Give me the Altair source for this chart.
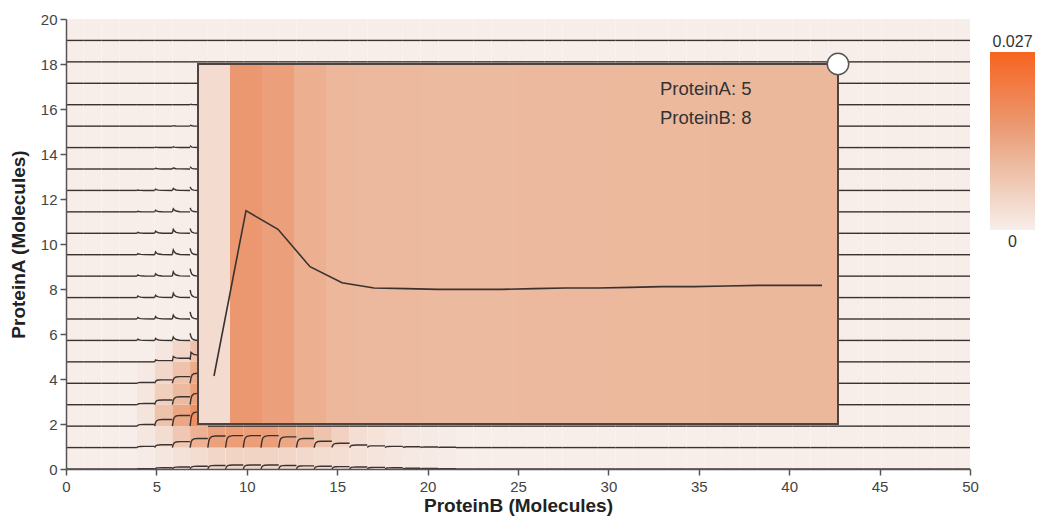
import altair as alt
import pandas as pd

# ---- grid --------------------------------------------------------------
A_MAX, B_MAX = 20, 50
PROTEIN_A = list(range(A_MAX + 1))   # 21 rows
PROTEIN_B = list(range(B_MAX + 1))   # 51 columns
N_A, N_B = len(PROTEIN_A), len(PROTEIN_B)
P_MAX = 0.027
LEGEND_VALUES = [0, P_MAX]

# time steps sampled for the small trace drawn inside each cell
TRACE_T = [0, 1, 2, 4, 8, 19]
T_LAST = 19

# probability over time (x 1e-3) for the selected cell, one value per step
INSET_A, INSET_B = 5, 8
INSET_T = list(range(20))
INSET_P = [3.6, 16.0, 14.6, 11.8, 10.6, 10.2, 10.15, 10.1, 10.1, 10.1,
           10.15, 10.2, 10.2, 10.25, 10.3, 10.3, 10.35, 10.4, 10.4, 10.4]

# probability traces (x 1e-3) at TRACE_T, keyed by (ProteinA, ProteinB);
# every other cell stays at zero
TRACES = {
    # ProteinA = 0
    (0, 4): [0, 0.3, 0.4, 0.5, 0.5, 0.5],
    (0, 5): [0, 0.8, 1.2, 1.4, 1.5, 1.5],
    (0, 6): [0, 1.4, 2.0, 2.4, 2.5, 2.5],
    (0, 7): [0, 1.9, 2.8, 3.3, 3.5, 3.5],
    (0, 8): [0, 2.5, 3.6, 4.3, 4.5, 4.5],
    (0, 9): [0, 2.8, 4.0, 4.8, 5.0, 5.0],
    (0, 10): [0, 2.8, 4.0, 4.8, 5.0, 5.0],
    (0, 11): [0, 2.8, 4.0, 4.8, 5.0, 5.0],
    (0, 12): [0, 2.5, 3.6, 4.3, 4.5, 4.5],
    (0, 13): [0, 2.2, 3.2, 3.8, 4.0, 4.0],
    (0, 14): [0, 1.9, 2.8, 3.3, 3.5, 3.5],
    (0, 15): [0, 1.6, 2.4, 2.9, 3.0, 3.0],
    (0, 16): [0, 1.4, 2.0, 2.4, 2.5, 2.5],
    (0, 17): [0, 1.1, 1.6, 1.9, 2.0, 2.0],
    (0, 18): [0, 0.8, 1.2, 1.4, 1.5, 1.5],
    (0, 19): [0, 0.5, 0.8, 1.0, 1.0, 1.0],
    (0, 20): [0, 0.4, 0.6, 0.7, 0.8, 0.8],
    (0, 21): [0, 0.3, 0.4, 0.5, 0.5, 0.5],
    # ProteinA = 1
    (1, 4): [0, 0.8, 1.2, 1.4, 1.5, 1.5],
    (1, 5): [0, 1.9, 2.8, 3.3, 3.5, 3.5],
    (1, 6): [0, 4.1, 6.0, 7.1, 7.5, 7.5],
    (1, 7): [0, 6.3, 9.2, 10.9, 11.5, 11.5],
    (1, 8): [0, 8.0, 11.6, 13.8, 14.5, 14.5],
    (1, 9): [0, 8.2, 12.0, 14.2, 15.0, 15.0],
    (1, 10): [0, 8.2, 12.0, 14.2, 15.0, 15.0],
    (1, 11): [0, 8.2, 12.0, 14.2, 15.0, 15.0],
    (1, 12): [0, 7.4, 10.8, 12.8, 13.5, 13.5],
    (1, 13): [0, 6.3, 9.2, 10.9, 11.5, 11.5],
    (1, 14): [0, 4.4, 6.4, 7.6, 8.0, 8.0],
    (1, 15): [0, 3.0, 4.4, 5.2, 5.5, 5.5],
    (1, 16): [0, 1.8, 2.6, 3.0, 3.2, 3.2],
    (1, 17): [0, 1.2, 1.8, 2.1, 2.2, 2.2],
    (1, 18): [0, 0.8, 1.2, 1.4, 1.5, 1.5],
    (1, 19): [0, 0.5, 0.8, 1.0, 1.0, 1.0],
    (1, 20): [0, 0.4, 0.6, 0.7, 0.8, 0.8],
    (1, 21): [0, 0.3, 0.4, 0.5, 0.5, 0.5],
    # ProteinA = 2 .. 4
    (2, 4): [0, 1.1, 1.6, 1.9, 2.0, 2.0],
    (2, 5): [0, 4.6, 6.6, 7.9, 8.3, 8.3],
    (2, 6): [0, 7.4, 10.8, 12.8, 13.5, 13.5],
    (2, 7): [0, 9.9, 14.4, 17.1, 18.0, 18.0],
    (3, 4): [0, 0.8, 1.2, 1.4, 1.5, 1.5],
    (3, 5): [0, 3.3, 4.8, 5.7, 6.0, 6.0],
    (3, 6): [0, 5.5, 8.0, 9.5, 10.0, 10.0],
    (3, 7): [0, 7.9, 11.4, 13.6, 14.3, 14.3],
    (4, 4): [0, 0.6, 0.8, 1.0, 1.0, 1.0],
    (4, 5): [0, 2.4, 3.5, 4.1, 4.3, 4.3],
    (4, 6): [0, 4.6, 6.7, 7.9, 8.4, 8.4],
    (4, 7): [0, 7.0, 10.2, 12.1, 12.7, 12.7],
    # ProteinA = 5
    (5, 5): [0, 2.5, 2.0, 1.6, 1.5, 1.5],
    (5, 6): [0.5, 6.8, 5.8, 5.0, 4.5, 4.5],
    (5, 7): [2.5, 12.0, 11.0, 9.5, 8.5, 8.5],
    (5, 8): [INSET_P[t] for t in TRACE_T],
    # ProteinA = 6 .. 17: early peak that dies away
    (6, 4): [0, 1.5, 0.9, 0.4, 0.1, 0], (6, 5): [0, 2.5, 1.5, 0.6, 0.1, 0],
    (6, 6): [0, 4.5, 2.7, 1.1, 0.2, 0], (6, 7): [9.0, 4.5, 2.3, 0.8, 0, 0],
    (7, 4): [0, 2.0, 1.2, 0.5, 0.1, 0], (7, 5): [0, 3.0, 1.8, 0.8, 0.2, 0],
    (7, 6): [0, 5.0, 3.0, 1.2, 0.2, 0], (7, 7): [9.0, 4.5, 2.2, 0.7, 0, 0],
    (8, 4): [0, 2.0, 1.2, 0.5, 0.1, 0], (8, 5): [0, 3.0, 1.8, 0.8, 0.2, 0],
    (8, 6): [0, 5.5, 3.3, 1.4, 0.3, 0], (8, 7): [9.5, 4.8, 2.4, 0.8, 0, 0],
    (9, 4): [0, 1.5, 0.9, 0.4, 0.1, 0], (9, 5): [0, 3.0, 1.8, 0.8, 0.2, 0],
    (9, 6): [0, 5.5, 3.3, 1.4, 0.3, 0], (9, 7): [9.5, 4.8, 2.4, 0.8, 0, 0],
    (10, 4): [0, 1.5, 0.9, 0.4, 0.1, 0], (10, 5): [0, 3.5, 2.1, 0.9, 0.2, 0],
    (10, 6): [0, 6.0, 3.6, 1.5, 0.3, 0], (10, 7): [8.0, 4.0, 2.0, 0.6, 0, 0],
    (11, 4): [0, 1.2, 0.7, 0.3, 0.1, 0], (11, 5): [0, 2.7, 1.6, 0.7, 0.1, 0],
    (11, 6): [0, 5.0, 3.0, 1.2, 0.2, 0], (11, 7): [6.0, 3.0, 1.5, 0.5, 0, 0],
    (12, 4): [0, 0.8, 0.5, 0.2, 0, 0], (12, 5): [0, 2.0, 1.2, 0.5, 0.1, 0],
    (12, 6): [0, 4.0, 2.4, 1.0, 0.2, 0], (12, 7): [5.0, 2.5, 1.2, 0.4, 0, 0],
    (13, 4): [0, 0.5, 0.3, 0.1, 0, 0], (13, 5): [0, 1.6, 1.0, 0.4, 0.1, 0],
    (13, 6): [0, 2.5, 1.5, 0.6, 0.1, 0], (13, 7): [4.5, 2.2, 1.1, 0.4, 0, 0],
    (14, 5): [0, 1.0, 0.6, 0.2, 0, 0], (14, 6): [0, 1.5, 0.9, 0.4, 0.1, 0],
    (14, 7): [3.0, 1.5, 0.8, 0.2, 0, 0],
    (15, 5): [0, 0.5, 0.3, 0.1, 0, 0], (15, 6): [0, 1.0, 0.6, 0.2, 0, 0],
    (15, 7): [2.5, 1.2, 0.6, 0.2, 0, 0],
    (16, 6): [0, 0.5, 0.3, 0.1, 0, 0], (16, 7): [1.5, 0.8, 0.4, 0.1, 0, 0],
    (17, 7): [0.8, 0.4, 0.2, 0.1, 0, 0],
}
ZERO_TRACE = [0, 0, 0, 0, 0, 0]

# ---- styling -----------------------------------------------------------
FONT = "Liberation Sans"
# colour ramp: stops at 0, ~0.0104, ~0.016 and the top of the scale
COLOR_STOPS = [0, 0.0104, 0.016, P_MAX]
COLOR_RANGE = ["#f7eeea", "#ecb89c", "#eb9870", "#f7641f"]
TRACE_COLOR = "#3a3230"
AXIS_COLOR = "#555555"

# inset panel, in pixels inside the plot area
PLOT_W, PLOT_H = 904, 450
INSET_LEFT, INSET_RIGHT = 132, 772
INSET_TOP, INSET_BOTTOM = 45, 405
# colour bar, in pixels relative to the plot area
BAR_X, BAR_Y, BAR_LEN, BAR_W = 924, 33, 178, 45

# ---- tables ------------------------------------------------------------
heat_rows, trace_rows = [], []
for a in PROTEIN_A:
    for b in PROTEIN_B:
        tr = TRACES.get((a, b), ZERO_TRACE)
        heat_rows.append({"A": a, "B": b, "p": tr[-1] / 1000})
        for t, v in zip(TRACE_T, tr):
            trace_rows.append({"A": a, "B": b, "cell": f"{a}-{b}", "t": t, "p": v / 1000})
heat_df = pd.DataFrame(heat_rows)
trace_df = pd.DataFrame(trace_rows)
inset_df = pd.DataFrame({"t": INSET_T, "p": [v / 1000 for v in INSET_P]})
legend_df = pd.DataFrame({"v": LEGEND_VALUES})

# ---- scales, axes, legend ---------------------------------------------
x_cells = alt.Scale(domain=[0, B_MAX], nice=False, zero=False)
y_cells = alt.Scale(domain=[0, A_MAX], nice=False, zero=False)
t_scale = alt.Scale(domain=[0, len(INSET_T)], range=[INSET_LEFT, INSET_RIGHT], nice=False, zero=False)
p_scale = alt.Scale(domain=[0, P_MAX], range=[INSET_BOTTOM, INSET_TOP], nice=False, zero=False)
# label positions for the colour bar ends: just above the top, just below the bottom
lab_scale = alt.Scale(domain=[0, P_MAX], range=[BAR_Y + BAR_LEN + 17, BAR_Y - 5], nice=False, zero=False)
color_scale = alt.Scale(domain=COLOR_STOPS, range=COLOR_RANGE, interpolate="rgb")

axis_common = dict(
    grid=False, labelFont=FONT, labelFontSize=15, labelColor="#444444",
    titleFont=FONT, titleFontSize=19, titleFontWeight="bold", titleColor="#222222",
    domainColor=AXIS_COLOR, domainWidth=1.5, tickColor=AXIS_COLOR, tickWidth=1.5,
    tickSize=6, labelFlush=False, zindex=1,
)
x_axis = alt.Axis(values=list(range(0, B_MAX + 1, 5)), title="ProteinB (Molecules)",
                  labelPadding=4, titlePadding=2, **axis_common)
y_axis = alt.Axis(values=list(range(0, A_MAX + 1, 2)), title="ProteinA (Molecules)",
                  labelPadding=3, titlePadding=12, **axis_common)

# the gradient only; its end values are written by the bar_labels layer
legend = alt.Legend(
    type="gradient", orient="none", legendX=BAR_X, legendY=BAR_Y, direction="vertical",
    title=None, gradientLength=BAR_LEN, gradientThickness=BAR_W, gradientStrokeWidth=0,
    padding=0, values=LEGEND_VALUES, labelExpr="''", labelFontSize=1,
)

# ---- layers ------------------------------------------------------------
heat = alt.Chart(heat_df).transform_calculate(
    x0=f"datum.B * {B_MAX} / {N_B}",
    x1=f"(datum.B + 1) * {B_MAX} / {N_B}",
    y0=f"datum.A * {A_MAX} / {N_A}",
    y1=f"(datum.A + 1) * {A_MAX} / {N_A}",
).mark_rect().encode(
    x=alt.X("x0:Q", scale=x_cells, axis=x_axis), x2="x1:Q",
    y=alt.Y("y0:Q", scale=y_cells, axis=y_axis), y2="y1:Q",
    color=alt.Color("p:Q", scale=color_scale, legend=legend),
)

traces = alt.Chart(trace_df).transform_calculate(
    tx=f"(datum.B + datum.t / {T_LAST}) * {B_MAX} / {N_B}",
    ty=f"(datum.A + datum.p / {P_MAX}) * {A_MAX} / {N_A}",
).mark_line(color=TRACE_COLOR, strokeWidth=1.4).encode(
    x=alt.X("tx:Q", scale=x_cells, axis=None),
    y=alt.Y("ty:Q", scale=y_cells, axis=None),
    detail="cell:N", order="t:Q",
)

stripes = alt.Chart(inset_df).transform_calculate(t1="datum.t + 1").mark_rect().encode(
    x=alt.X("t:Q", scale=t_scale, axis=None), x2="t1:Q",
    y=alt.value(INSET_TOP), y2=alt.value(INSET_BOTTOM),
    color=alt.Color("p:Q", scale=color_scale, legend=legend),
)

frame = alt.Chart(pd.DataFrame({"k": [0]})).mark_rect(
    fillOpacity=0, stroke="#4d4340", strokeWidth=2
).encode(
    x=alt.value(INSET_LEFT), x2=alt.value(INSET_RIGHT),
    y=alt.value(INSET_TOP), y2=alt.value(INSET_BOTTOM),
)

inset_line = alt.Chart(inset_df).transform_calculate(tc="datum.t + 0.5").mark_line(
    color=TRACE_COLOR, strokeWidth=1.6
).encode(
    x=alt.X("tc:Q", scale=t_scale, axis=None),
    y=alt.Y("p:Q", scale=p_scale, axis=None),
    order="tc:Q",
)

label_a = alt.Chart(pd.DataFrame({"label": [f"ProteinA: {INSET_A}"]})).mark_text(
    align="left", baseline="alphabetic", font=FONT, fontSize=18.5, color="#333333"
).encode(x=alt.value(594), y=alt.value(76), text="label:N")

label_b = alt.Chart(pd.DataFrame({"label": [f"ProteinB: {INSET_B}"]})).mark_text(
    align="left", baseline="alphabetic", font=FONT, fontSize=18.5, color="#333333"
).encode(x=alt.value(594), y=alt.value(105), text="label:N")

close_dot = alt.Chart(pd.DataFrame({"k": [0]})).mark_point(
    shape="circle", filled=True, size=460, fill="white", opacity=1,
    stroke="#555555", strokeWidth=1.5
).encode(x=alt.value(INSET_RIGHT), y=alt.value(INSET_TOP))

bar_labels = alt.Chart(legend_df).mark_text(
    align="center", baseline="alphabetic", font=FONT, fontSize=16, color="#333333"
).encode(
    x=alt.value(BAR_X + BAR_W / 2),
    y=alt.Y("v:Q", scale=lab_scale, axis=None),
    text=alt.Text("v:Q", format="~g"),
)

chart = alt.layer(
    heat, traces, stripes, frame, inset_line, label_a, label_b, close_dot, bar_labels
).resolve_scale(
    x="independent", y="independent"
).properties(
    width=PLOT_W, height=PLOT_H,
    autosize=alt.AutoSizeParams(type="none"),
    padding={"left": 66, "top": 19, "right": 68, "bottom": 48},
).configure_view(stroke=None)

chart.save("out.html", embed_options={"renderer": "svg", "actions": False})
